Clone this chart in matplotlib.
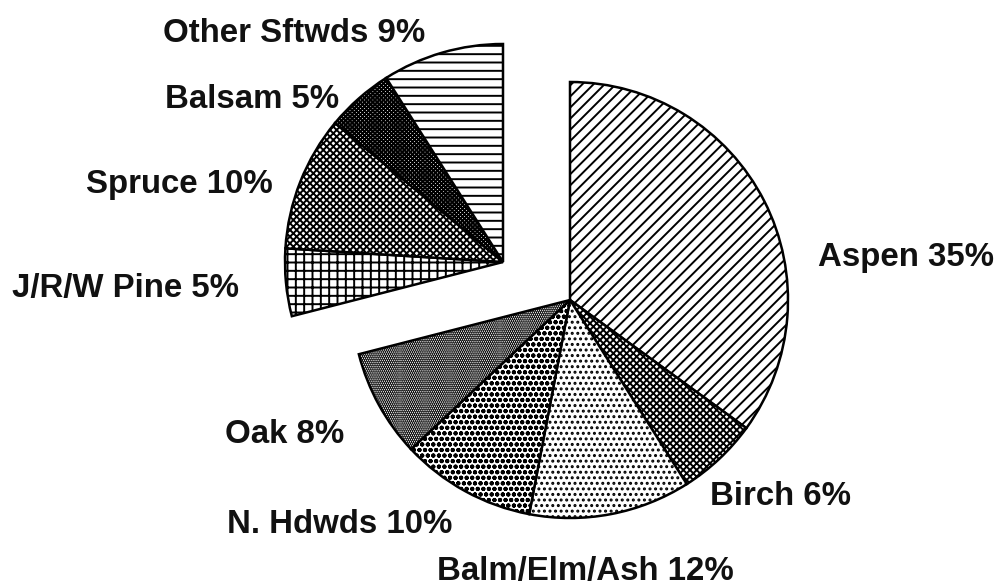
import matplotlib
matplotlib.use("Agg")
import matplotlib.pyplot as plt
import numpy as np

# ---- data ----
hard_labels = ["Aspen", "Birch", "Balm/Elm/Ash", "N. Hdwds", "Oak"]
hard_values = [35, 6, 12, 10, 8]
soft_labels = ["J/R/W Pine", "Spruce", "Balsam", "Other Sftwds"]
soft_values = [5, 10, 5, 9]

hard_hatches = ["///", "xxxxx", "...", "ooo", "........"]
soft_hatches = ["++", "xxxxx", "xxxxxxxx", "--"]

# label anchor positions (pixels from top-left): left x, baseline y
hard_label_pos = [(818, 266), (710, 505), (437, 580), (227, 533), (225, 443)]
soft_label_pos = [(12, 297), (86, 193), (165, 108), (163, 42)]

W, H = 1005, 586
plt.rcParams['hatch.linewidth'] = 1.4
plt.rcParams['font.family'] = ['Liberation Sans', 'DejaVu Sans']

fig = plt.figure(figsize=(W / 100, H / 100), dpi=100)
ax = fig.add_axes([0, 0, 1, 1])

R = 218
hard_center = (570, H - 300)
soft_center = (503, H - 262)

wp = dict(edgecolor='black', linewidth=1.8, facecolor='white')
hw, _ = ax.pie(np.array(hard_values) / 100.0, normalize=False, startangle=90,
               counterclock=False, radius=R, center=hard_center,
               hatch=hard_hatches, wedgeprops=wp, frame=False)
start_soft = 90 - sum(hard_values) / 100.0 * 360
sw, _ = ax.pie(np.array(soft_values) / 100.0, normalize=False, startangle=start_soft,
               counterclock=False, radius=R, center=soft_center,
               hatch=soft_hatches, wedgeprops=wp, frame=False)
for w in list(hw) + list(sw):
    w.set_facecolor('white')
    w.set_edgecolor('black')

for lab, v, (x, y) in zip(hard_labels, hard_values, hard_label_pos):
    ax.text(x, H - y, f"{lab} {v}%", ha='left', va='baseline',
            fontsize=23.8, fontweight='bold', color='#111111')
for lab, v, (x, y) in zip(soft_labels, soft_values, soft_label_pos):
    ax.text(x, H - y, f"{lab} {v}%", ha='left', va='baseline',
            fontsize=23.8, fontweight='bold', color='#111111')

ax.set_xlim(0, W)
ax.set_ylim(0, H)
ax.set_aspect('auto')
ax.axis('off')
fig.savefig("out.png", dpi=100, facecolor='white')
